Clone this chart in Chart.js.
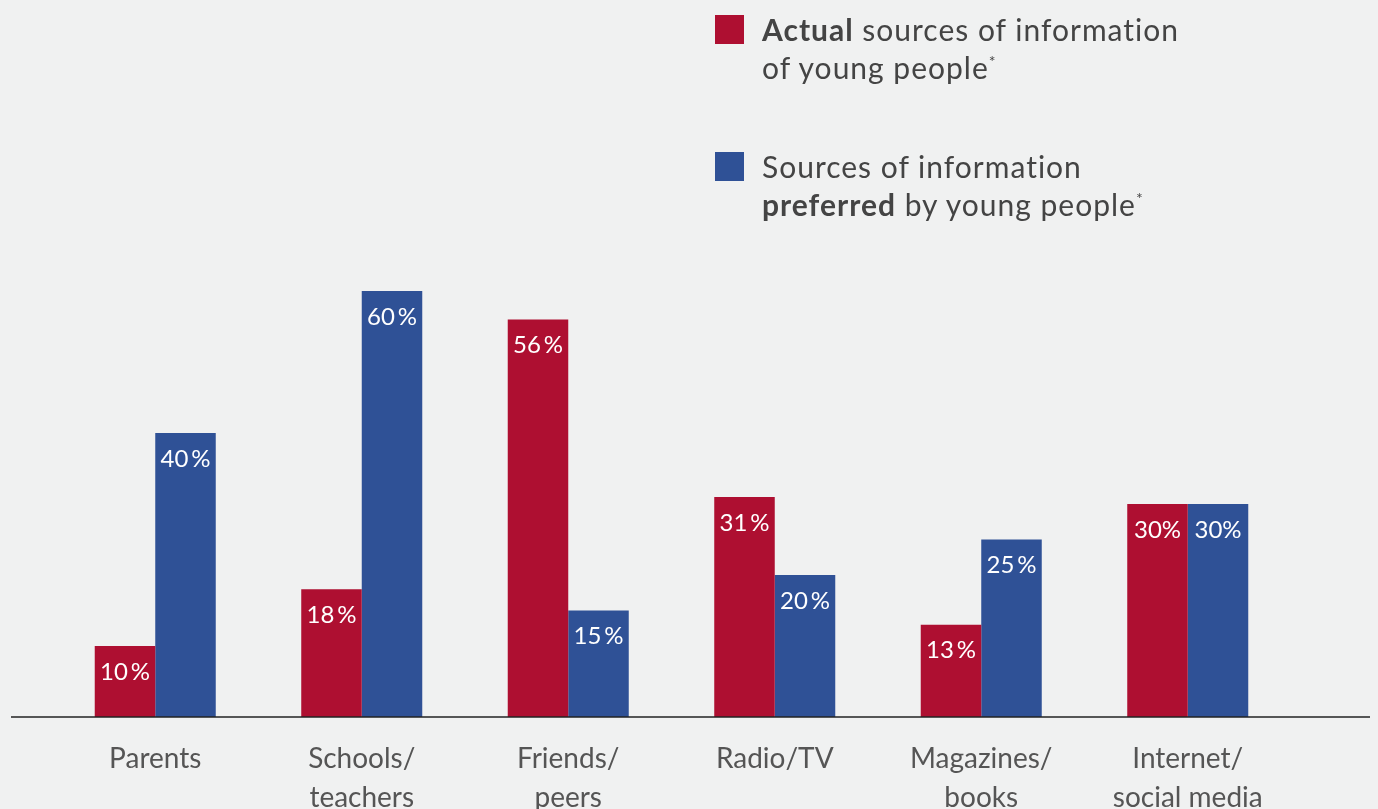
<!DOCTYPE html>
<html>
<head>
<meta charset="utf-8">
<script src="https://cdn.jsdelivr.net/npm/chart.js@4/dist/chart.umd.min.js"></script>
<style>
  html, body { margin: 0; padding: 0; background: #f0f1f1; overflow: hidden; }
  #wrap { position: relative; width: 1378px; height: 809px; }
  #legend { position: absolute; left: 715px; top: 10px; font-family: Lato, sans-serif; color: #444; font-size: 30px; letter-spacing: 1px; line-height: 38px; }
  .item { position: relative; padding-left: 47px; margin-bottom: 61px; }
  .sw { position: absolute; left: 0; top: 5px; width: 29px; height: 29px; }
  sup { font-size: 16px; vertical-align: 12px; line-height: 0; }
</style>
</head>
<body>
<div id="wrap">
  <canvas id="myChart" width="1378" height="809"></canvas>
  <div id="legend"></div>
</div>
<script>
const categories = [["Parents"], ["Schools/", "teachers"], ["Friends/", "peers"], ["Radio/TV"], ["Magazines/", "books"], ["Internet/", "social media"]];
const actualValues = [10, 18, 56, 31, 13, 30];
const preferredValues = [40, 60, 15, 20, 25, 30];
const actualLabels = ["10\u2009%", "18\u2009%", "56\u2009%", "31\u2009%", "13\u2009%", "30%"];
const preferredLabels = ["40\u2009%", "60\u2009%", "15\u2009%", "20\u2009%", "25\u2009%", "30%"];
const barColors = ["#ae0f31", "#2f5196"];
const legendText = [
  "<b>Actual</b> sources of information<br>of young people<sup>*</sup>",
  "Sources of information<br><b>preferred</b> by young people<sup>*</sup>"
];

const valueLabels = {
  id: "valueLabels",
  afterDatasetsDraw(chart) {
    const ctx = chart.ctx;
    ctx.save();
    ctx.fillStyle = "#ffffff";
    ctx.font = "24px Lato";
    ctx.textAlign = "center";
    ctx.textBaseline = "middle";
    chart.data.datasets.forEach((ds, i) => {
      chart.getDatasetMeta(i).data.forEach((bar, j) => {
        ctx.fillText(ds.labelsText[j], bar.x, bar.y + 26);
      });
    });
    ctx.restore();
  }
};

const baseLine = {
  id: "baseLine",
  afterDatasetsDraw(chart) {
    const ctx = chart.ctx;
    const y = chart.scales.y.getPixelForValue(0);
    ctx.save();
    ctx.strokeStyle = "#222";
    ctx.lineWidth = 1.5;
    ctx.beginPath();
    ctx.moveTo(11, y);
    ctx.lineTo(1370, y);
    ctx.stroke();
    ctx.restore();
  }
};

const chart = new Chart("myChart", {
  type: "bar",
  data: {
    labels: categories,
    datasets: [
      { label: "Actual", data: actualValues, labelsText: actualLabels, backgroundColor: barColors[0] },
      { label: "Preferred", data: preferredValues, labelsText: preferredLabels, backgroundColor: barColors[1] }
    ]
  },
  options: {
    responsive: false,
    animation: false,
    layout: { padding: { left: 52, right: 87, top: 7, bottom: 0 } },
    datasets: { bar: { barPercentage: 1, categoryPercentage: 0.586 } },
    plugins: { legend: { display: false }, tooltip: { enabled: false } },
    scales: {
      x: {
        grid: { display: false },
        border: { display: false },
        ticks: { color: "#555", font: { family: "Lato", size: 28, lineHeight: 1.4 }, padding: 14, maxRotation: 0, autoSkip: false },
        afterFit(scale) { scale.height = 92; }
      },
      y: { display: false, min: 0, max: 100 }
    }
  },
  plugins: [valueLabels, baseLine]
});

document.getElementById("legend").innerHTML = chart.data.datasets.map((ds, i) =>
  '<div class="item"><span class="sw" style="background:' + ds.backgroundColor + '"></span>' + legendText[i] + '</div>'
).join("");
</script>
</body>
</html>
